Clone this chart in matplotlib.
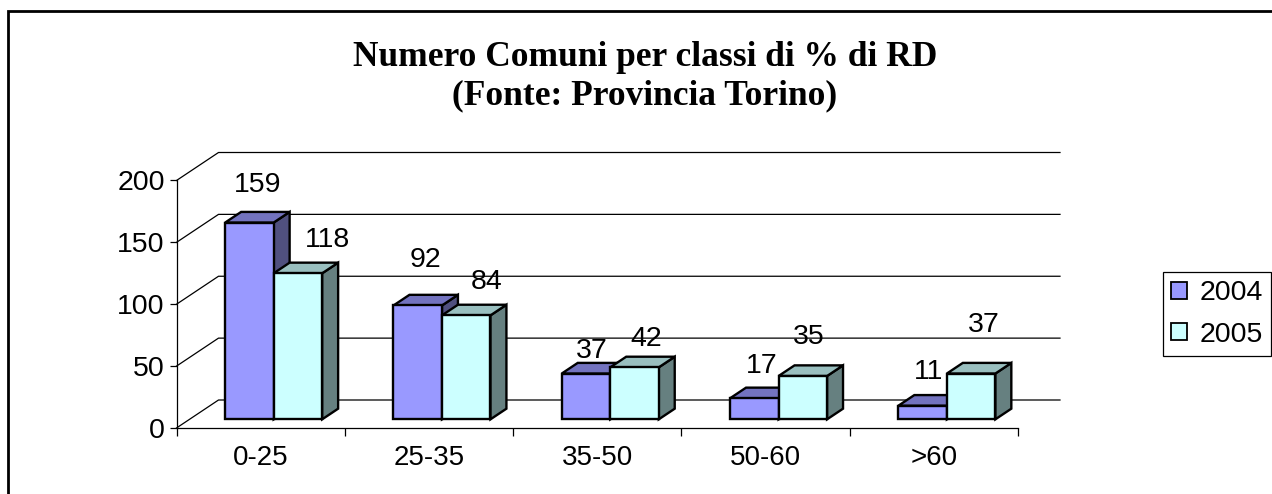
import matplotlib
matplotlib.use("Agg")
import matplotlib.pyplot as plt
from matplotlib.lines import Line2D
from matplotlib.patches import Patch, Polygon

categories = ["0-25", "25-35", "35-50", "50-60", ">60"]
years = ["2004", "2005"]
values_2004 = [159, 92, 37, 17, 11]
values_2005 = [118, 84, 42, 35, 37]
y_ticks = [0, 50, 100, 150, 200]

# face, top, side
colors_2004 = ("#9999FF", "#7373BF", "#50507F")
colors_2005 = ("#CCFFFF", "#99BFBF", "#668080")

# hand placed labels, like in the original: offset in pixels from the top of the bar
label_dx = [[8, 30], [8, 20], [6, 12], [7, 6], [6, 13]]
label_dy = [[38, 33], [45, 33], [23, 28], [32, 39], [34, 49]]

W, H = 1272, 494
fig = plt.figure(figsize=(W / 100, H / 100), dpi=100)
plt.rcParams["font.family"] = ["Liberation Sans"]

# axes is the front plane of the 3D box
x0, x1, y_top, y_bot = 176.5, 1018, 180.5, 428
ax = fig.add_axes([x0 / W, 1 - y_bot / H, (x1 - x0) / W, (y_bot - y_top) / H])
ax.set_xlim(0, 5)
ax.set_ylim(0, 200)
ax.patch.set_alpha(0)

# depth of the box in data units
depth_x = 42 / ((x1 - x0) / 5)
depth_y = 28 / ((y_bot - y_top) / 200)

for v in y_ticks:
    ax.plot([0, depth_x, 5 + depth_x], [v, v + depth_y, v + depth_y],
            color="black", lw=0.9, clip_on=False, zorder=1)


def draw_bar(left, width, value, colors):
    # bar sits in the middle of the floor depth
    d0, d1 = 0.31, 0.69
    xa = left + d0 * depth_x
    xb = xa + width
    ya = d0 * depth_y
    yt = value + ya
    dx = (d1 - d0) * depth_x
    dy = (d1 - d0) * depth_y
    style = dict(edgecolor="black", lw=1.7, joinstyle="miter", clip_on=False, zorder=3)
    ax.add_patch(Polygon([(xb, ya), (xb + dx, ya + dy), (xb + dx, yt + dy), (xb, yt)],
                         facecolor=colors[2], **style))
    ax.add_patch(Polygon([(xa, yt), (xb, yt), (xb + dx, yt + dy), (xa + dx, yt + dy)],
                         facecolor=colors[1], **style))
    ax.add_patch(Polygon([(xa, ya), (xb, ya), (xb, yt), (xa, yt)],
                         facecolor=colors[0], **style))
    return xa + width / 2, yt


bar_w = 48.5 / ((x1 - x0) / 5)
for i in range(len(categories)):
    center = i + 0.5
    for j, (vals, cols) in enumerate([(values_2004, colors_2004), (values_2005, colors_2005)]):
        left = center - bar_w + j * bar_w
        bx, by = draw_bar(left, bar_w, vals[i], cols)
        ax.annotate(str(vals[i]), (bx, by), xytext=(label_dx[i][j], label_dy[i][j]),
                    textcoords="offset pixels", ha="center", va="center",
                    fontsize=20.5, color="black", zorder=5, annotation_clip=False)

for side in ["top", "right"]:
    ax.spines[side].set_visible(False)
for side in ["left", "bottom"]:
    ax.spines[side].set_linewidth(0.9)

ax.set_yticks(y_ticks)
ax.set_xticks(range(6))
ax.set_xticklabels([])
ax.set_xticks([i + 0.5 for i in range(5)], minor=True)
ax.set_xticklabels(categories, minor=True)
ax.tick_params(axis="x", which="minor", length=0, labelsize=20, pad=12.5)
ax.tick_params(axis="x", which="major", length=5.5, width=0.9)
ax.tick_params(axis="y", length=5, width=0.9, labelsize=20.5, pad=3.5)

fig.text(645 / W, 1 - 57 / H, "Numero Comuni per classi di % di RD", ha="center", va="center",
         fontsize=25.5, fontweight="bold", family="Liberation Serif")
fig.text(645 / W, 1 - 96 / H, "(Fonte: Provincia Torino)", ha="center", va="center",
         fontsize=25.5, fontweight="bold", family="Liberation Serif")

handles = [Patch(facecolor=colors_2004[0], edgecolor="black", lw=1.3),
           Patch(facecolor=colors_2005[0], edgecolor="black", lw=1.3)]
leg = fig.legend(handles, years, loc="center", bbox_to_anchor=(1217 / W, 1 - 314 / H),
                 fontsize=20.5, fancybox=False, framealpha=1, edgecolor="black",
                 handlelength=0.56, handleheight=0.56, handletextpad=0.42,
                 labelspacing=0.54, borderpad=0.29, borderaxespad=0)
leg.get_frame().set_linewidth(0.9)

# outer frame of the chart, cut by the image on right and bottom
fig.add_artist(Line2D([8 / W, 8 / W, 1], [0, 1 - 11 / H, 1 - 11 / H],
                      color="black", lw=2, solid_joinstyle="miter"))

fig.savefig("out.png", dpi=100)
